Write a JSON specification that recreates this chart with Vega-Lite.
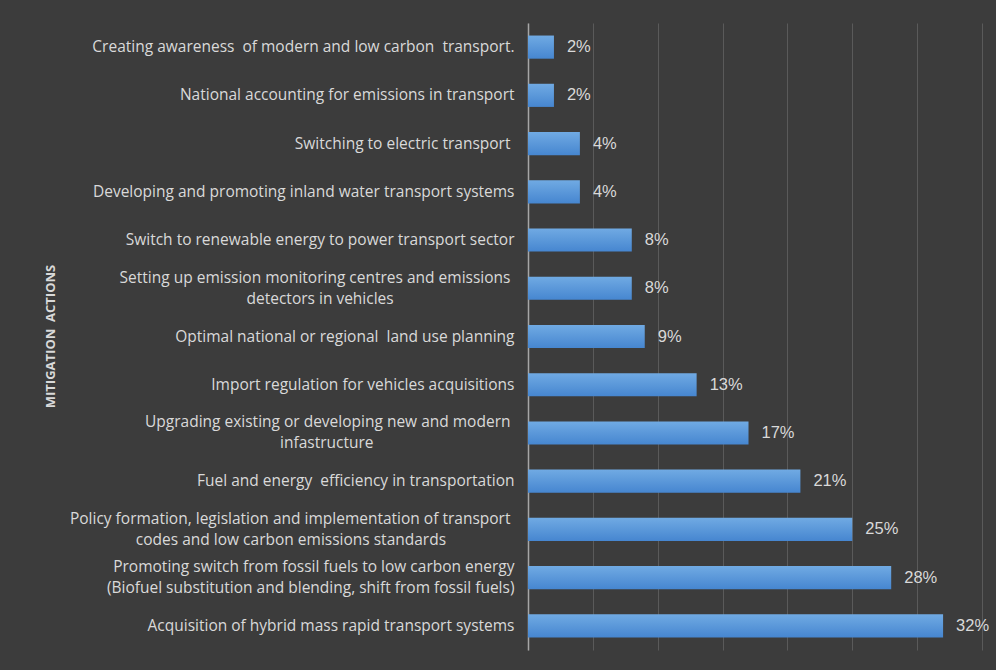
{
  "$schema": "https://vega.github.io/schema/vega-lite/v6.json",
  "width": 454,
  "height": 627,
  "autosize": {"type": "none"},
  "padding": {"left": 528, "top": 23, "right": 14, "bottom": 20},
  "background": "#3c3c3c",
  "data": {
    "values": [
      {"order": 1, "action": "Creating awareness\u00a0 of modern and low carbon\u00a0 transport.", "share": 0.02},
      {"order": 2, "action": "National accounting for emissions in transport", "share": 0.02},
      {"order": 3, "action": "Switching to electric transport\u00a0\u200b", "share": 0.04},
      {"order": 4, "action": "Developing and promoting inland water transport systems", "share": 0.04},
      {"order": 5, "action": "Switch to renewable energy to power transport sector", "share": 0.08},
      {"order": 6, "action": "Setting up emission monitoring centres and emissions\u00a0\u200b|detectors in vehicles\u00a0\u00a0\u00a0\u00a0\u00a0\u00a0\u00a0\u00a0\u00a0\u00a0\u00a0\u00a0\u00a0\u00a0\u00a0\u00a0\u00a0\u00a0\u00a0\u00a0\u00a0\u00a0\u00a0\u00a0\u00a0\u00a0\u00a0\u00a0\u00a0\u00a0\u200b", "share": 0.08},
      {"order": 7, "action": "Optimal national or regional\u00a0 land use planning", "share": 0.09},
      {"order": 8, "action": "Import regulation for vehicles acquisitions", "share": 0.13},
      {"order": 9, "action": "Upgrading existing or developing new and modern\u00a0\u200b|infastructure\u00a0\u00a0\u00a0\u00a0\u00a0\u00a0\u00a0\u00a0\u00a0\u00a0\u00a0\u00a0\u00a0\u00a0\u00a0\u00a0\u00a0\u00a0\u00a0\u00a0\u00a0\u00a0\u00a0\u00a0\u00a0\u00a0\u00a0\u00a0\u00a0\u00a0\u00a0\u00a0\u00a0\u00a0\u00a0\u200b", "share": 0.17},
      {"order": 10, "action": "Fuel and energy\u00a0 efficiency in transportation", "share": 0.21},
      {"order": 11, "action": "Policy formation, legislation and implementation of transport\u00a0\u200b|codes and low carbon emissions standards\u00a0\u00a0\u00a0\u00a0\u00a0\u00a0\u00a0\u00a0\u00a0\u00a0\u00a0\u00a0\u00a0\u00a0\u00a0\u00a0\u00a0\u200b", "share": 0.25},
      {"order": 12, "action": "Promoting switch from fossil fuels to low carbon energy|(Biofuel substitution and blending, shift from fossil fuels)", "share": 0.28},
      {"order": 13, "action": "Acquisition of hybrid mass rapid transport systems", "share": 0.32}
    ]
  },
  "encoding": {
    "y": {
      "field": "action",
      "type": "nominal",
      "sort": {"field": "order", "op": "min"},
      "scale": {"paddingInner": 0.52, "paddingOuter": 0.26},
      "title": "MITIGATION\u00a0 ACTIONS",
      "axis": {
        "labelExpr": "split(datum.label, '|')",
        "labelFont": "Open Sans",
        "labelFontSize": 15.5,
        "labelColor": "#d9d9d9",
        "labelLineHeight": 21,
        "labelBaseline": "middle",
        "labelOffset": {"condition": {"test": "indexof(datum.value, '|') >= 0", "value": -10.5}, "value": 0},
        "labelLimit": 600,
        "labelPadding": 14,
        "ticks": false,
        "domainColor": "#a6a6a6",
        "domainWidth": 1.5,
        "grid": false,
        "titleFont": "Open Sans",
        "titleFontSize": 13,
        "titleFontWeight": "bold",
        "titleColor": "#d9d9d9",
        "titleX": -478,
        "titleY": 313,
        "titleAngle": -90,
        "titleAlign": "center",
        "titleBaseline": "middle"
      }
    },
    "x": {
      "field": "share",
      "type": "quantitative",
      "scale": {"domain": [0, 0.35], "nice": false},
      "axis": {
        "title": null,
        "labels": false,
        "ticks": false,
        "domain": false,
        "grid": true,
        "values": [0, 0.05, 0.1, 0.15, 0.2, 0.25, 0.3, 0.35],
        "gridColor": "#5a5a5a",
        "gridWidth": 1
      }
    }
  },
  "layer": [
    {
      "mark": {
        "type": "bar",
        "color": {
          "gradient": "linear",
          "x1": 0, "y1": 0, "x2": 0, "y2": 1,
          "stops": [
            {"offset": 0, "color": "#70aae3"},
            {"offset": 1, "color": "#4686d0"}
          ]
        }
      }
    },
    {
      "mark": {
        "type": "text",
        "align": "left",
        "baseline": "middle",
        "dx": 13,
        "font": "Liberation Sans",
        "fontSize": 16.5,
        "color": "#d9d9d9"
      },
      "encoding": {
        "text": {"field": "share", "type": "quantitative", "format": ".0%"}
      }
    }
  ],
  "config": {"view": {"stroke": null}}
}
